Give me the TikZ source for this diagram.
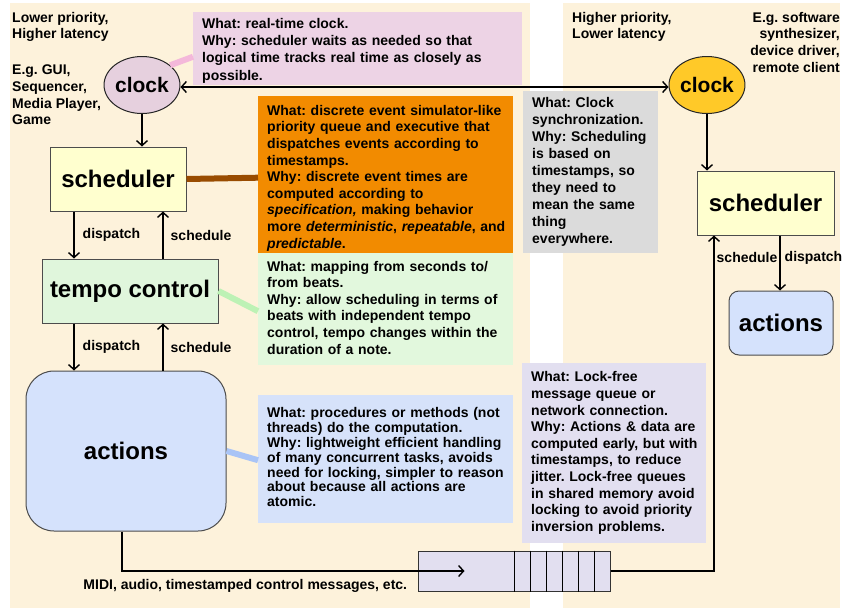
\documentclass[tikz,border=0pt]{standalone}
\usepackage{fontspec}
\setmainfont{Liberation Sans}
\usetikzlibrary{calc, arrows.meta, shapes.geometric, positioning}

\definecolor{panel}{HTML}{FDF2DB}
\definecolor{clockpink}{HTML}{E6D0DE}
\definecolor{notepink}{HTML}{EDD3E5}
\definecolor{linkpink}{HTML}{F4B8DA}
\definecolor{noteorange}{HTML}{F28B00}
\definecolor{linkbrown}{HTML}{994C00}
\definecolor{notegray}{HTML}{DBDBDB}
\definecolor{notegreen}{HTML}{E2F8DD}
\definecolor{linkgreen}{HTML}{BDF2B5}
\definecolor{noteblue}{HTML}{D6E2FA}
\definecolor{linkblue}{HTML}{A9C4F6}
\definecolor{notelav}{HTML}{E2DFF0}
\definecolor{schedfill}{HTML}{FFFFCF}
\definecolor{tempofill}{HTML}{E0F6DC}
\definecolor{actfill}{HTML}{D5E2FC}
\definecolor{clockgold}{HTML}{FFC928}

\begin{document}
\frenchspacing
\begin{tikzpicture}[x=1pt, y=-1pt, >={Straight Barb[length=5pt, width=11pt]}]
	% --- Fonts ---
	\def\notefont{\fontsize{14}{16.6}\selectfont\bfseries\frenchspacing}
	\def\bigfont{\fontsize{24}{28}\selectfont\bfseries}
	\def\clockfont{\fontsize{21}{25}\selectfont\bfseries}
	\def\notelines#1{\begin{tabular}{@{}l@{}}#1\end{tabular}}
	
	% --- Styles ---
	\tikzset{
		box/.style={draw=black!70, line width=1pt, font=\bigfont, inner sep=0pt},
		clockbox/.style={ellipse, draw=black!85, line width=1pt, font=\clockfont, inner sep=0pt, minimum width=73pt, minimum height=57pt},
		note/.style={anchor=north west, inner xsep=9pt, inner ysep=0pt, align=left, font=\notefont},
		lbl/.style={font=\notefont, inner sep=2pt},
		flow/.style={->, line width=1.4pt},
		link/.style={line width=6pt}
	}
	
	% --- Panels ---
	\useasboundingbox (0,0) rectangle (847,608);
	\fill[panel] (10,3) rectangle (530,608);
	\fill[panel] (563,3) rectangle (840,608);
	
	% --- Blocks ---
	\node[clockbox, fill=clockpink] (clockL) at (142,85) {clock};
	\node[box, fill=schedfill, minimum width=136pt, minimum height=64pt] (schedL) at (118,179) {scheduler};
	\node[box, fill=tempofill, minimum width=176pt, minimum height=64pt] (tempo) at (130,291) {tempo control};
	\node[box, fill=actfill, rounded corners=28pt, minimum width=200pt, minimum height=160pt] (actionsL) at (126,451) {actions};
	\node[clockbox, fill=clockgold] (clockR) at (707,85) {clock};
	\node[box, fill=schedfill, minimum width=137pt, minimum height=64pt] (schedR) at (765.5,203) {scheduler};
	\node[box, fill=actfill, rounded corners=10pt, minimum width=104pt, minimum height=64pt] (actionsR) at (781,323) {actions};
	\node[draw=black!80, line width=1pt, fill=notelav, minimum width=192pt, minimum height=40pt, inner sep=0pt] (queue) at (514,571) {};
	\foreach \k in {1,...,6}
		\draw[line width=1pt] ($(queue.north east)+(-16*\k,0)$) -- ($(queue.south east)+(-16*\k,0)$);
	
	% --- Side texts ---
	\node[note, inner sep=0pt] (prioL) at (12,12) {Lower priority,\\Higher latency};
	\node[note, inner sep=0pt] (exL) at (12,65) {E.g. GUI,\\Sequencer,\\Media Player,\\Game};
	\node[note, inner sep=0pt] (prioR) at (572,12) {Higher priority,\\Lower latency};
	\node[note, inner sep=0pt, anchor=north east, align=right] (exR) at (840,12) {E.g. software\\synthesizer,\\device driver,\\remote client};
	
	% --- Notes ---
	\node[note, fill=notepink, text width=311pt, minimum height=71pt, font=\fontsize{14}{17.3}\selectfont\bfseries\frenchspacing] (noteClock) at (193,12)
		{\notelines{\rule{0pt}{16pt}What: real-time clock.\\Why: scheduler waits as needed so that\\logical time tracks real time as closely as\\possible.}};
	\node[note, fill=noteorange, text width=237pt, minimum height=157pt] (noteSched) at (258,96)
		{\notelines{\rule{0pt}{19pt}What: discrete event simulator-like\\priority queue and executive that\\dispatches events according to\\timestamps.\\Why: discrete event times are\\computed according to\\\textit{specification,} making behavior\\more \textit{deterministic}, \textit{repeatable}, and\\\textit{predictable}.}};
	\node[note, fill=notegray, text width=117pt, minimum height=162pt, font=\fontsize{14}{16.9}\selectfont\bfseries\frenchspacing] (noteSync) at (523,91)
		{\notelines{What: Clock\\synchronization.\\Why: Scheduling\\is based on\\timestamps, so\\they need to\\mean the same\\thing\\everywhere.}};
	\node[note, fill=notegreen, text width=237pt, minimum height=112pt] (noteTempo) at (258,253)
		{\notelines{What: mapping from seconds to/\\from beats.\\Why: allow scheduling in terms of\\beats with independent tempo\\control, tempo changes within the\\duration of a note.}};
	\node[note, fill=noteblue, text width=237pt, minimum height=128pt, font=\fontsize{14}{14.9}\selectfont\bfseries\frenchspacing] (noteAct) at (258,395)
		{\notelines{What: procedures or methods (not\\threads) do the computation.\\Why: lightweight efficient handling\\of many concurrent tasks, avoids\\need for locking, simpler to reason\\about because all actions are\\atomic.}};
	\node[note, fill=notelav, text width=166pt, minimum height=180pt] (noteQueue) at (522,363)
		{\notelines{What: Lock-free\\message queue or\\network connection.\\Why: Actions \& data are\\computed early, but with\\timestamps, to reduce\\jitter. Lock-free queues\\in shared memory avoid\\locking to avoid priority\\inversion problems.}};
	
	% --- Links to notes ---
	\draw[link, linkpink] (clockL.35) -- ([yshift=-8pt]noteClock.west);
	\draw[link, linkbrown] (schedL.east) -- ([yshift=-3pt]noteSched.west);
	\draw[link, linkgreen] (tempo.east) -- ([yshift=-2pt]noteTempo.west);
	\draw[link, linkblue] (actionsL.east) -- ([yshift=-1pt]noteAct.west);
	
	% --- Flows ---
	\coordinate (dL) at (74,0);
	\coordinate (sL) at (163,0);
	\coordinate (msgX) at (122,0);
	\coordinate (schedX) at (714,0);
	\coordinate (dR) at (780,0);
	
	\draw[flow] (clockL.south) -- (clockL.south |- schedL.north);
	\draw[flow] (dL |- schedL.south) -- (dL |- tempo.north) node[lbl, midway, right, xshift=6pt] {dispatch};
	\draw[flow] (sL |- tempo.north) -- (sL |- schedL.south) node[lbl, midway, right, xshift=5pt] {schedule};
	\draw[flow] (dL |- tempo.south) -- (dL |- actionsL.north) node[lbl, midway, right, xshift=6pt] {dispatch};
	\draw[flow] (sL |- actionsL.north) -- (sL |- tempo.south) node[lbl, midway, right, xshift=5pt] {schedule};
	
	\draw[<->, line width=1.4pt] ([yshift=-2pt]clockL.east) -- ([yshift=-2pt]clockR.west);
	\draw[flow] (clockR.south) -- (clockR.south |- schedR.north);
	\draw[flow] (dR |- schedR.south) -- (dR |- actionsR.north) node[lbl, pos=0.4, right, xshift=2pt] {dispatch};
	
	\draw[flow] (msgX |- actionsL.south) |- ([xshift=47pt]queue.west)
		node[lbl, pos=0.68, below, yshift=-6pt] {MIDI, audio, timestamped control messages, etc.};
	\draw[flow] (queue.east) -| (schedX |- schedR.south) node[lbl, pos=0.967, right] {schedule};
\end{tikzpicture}
\end{document}
